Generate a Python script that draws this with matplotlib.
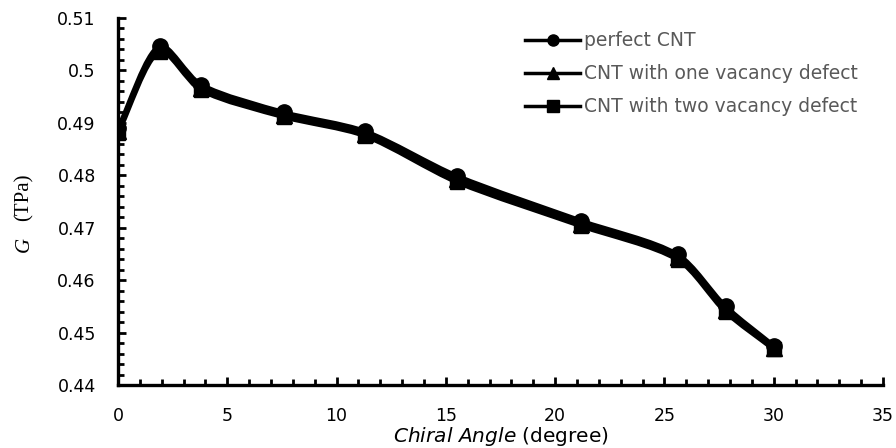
import matplotlib
matplotlib.use('Agg')
import matplotlib.pyplot as plt
import numpy as np
from matplotlib.lines import Line2D
from matplotlib.patches import PathPatch
from matplotlib.path import Path
from matplotlib.ticker import FuncFormatter, MultipleLocator

chiral_angle = [0, 1.9, 3.8, 7.6, 11.3, 15.5, 21.2, 25.6, 27.8, 30]
g_perfect = [0.4890, 0.5047, 0.4973, 0.4920, 0.4884, 0.4799, 0.4713, 0.4649, 0.4550, 0.4475]
g_one_vac = [0.4885, 0.5041, 0.4967, 0.4915, 0.4879, 0.4793, 0.4708, 0.4644, 0.4544, 0.4471]
g_two_vac = [0.4880, 0.5036, 0.4962, 0.4911, 0.4875, 0.4787, 0.4703, 0.4639, 0.4539, 0.4468]

labels = ['perfect CNT', 'CNT with one vacancy defect', 'CNT with two vacancy defect']
markers = ['o', '^', 's']
marker_sizes = [11, 11, 10]

XMAX, YMIN, YMAX = 35, 0.44, 0.51
AX_W, AX_H = 765, 367  # axes size in pixels, used to smooth in screen proportions


def smooth_path(x, y, k=0.28):
    # cubic Bezier through every point, tangents from neighbours scaled by chord length
    p = np.column_stack([np.asarray(x) / XMAX * AX_W, (np.asarray(y) - YMIN) / (YMAX - YMIN) * AX_H])
    n = len(p)
    d = np.linalg.norm(np.diff(p, axis=0), axis=1)
    tang = np.zeros_like(p)
    for i in range(n):
        a = p[i - 1] if i > 0 else p[i]
        b = p[i + 1] if i < n - 1 else p[i]
        span = (d[i - 1] if i > 0 else 0) + (d[i] if i < n - 1 else 0)
        tang[i] = (b - a) / span
    verts = [p[0]]
    codes = [Path.MOVETO]
    for i in range(n - 1):
        c1 = p[i] + tang[i] * d[i] * k
        c2 = p[i + 1] - tang[i + 1] * d[i] * k
        verts += [c1, c2, p[i + 1]]
        codes += [Path.CURVE4] * 3
    v = np.array(verts)
    v[:, 0] = v[:, 0] / AX_W * XMAX
    v[:, 1] = v[:, 1] / AX_H * (YMAX - YMIN) + YMIN
    return Path(v, codes)


plt.rcParams['font.family'] = ['DejaVu Sans']

fig = plt.figure(figsize=(8.96, 4.48), dpi=100)
ax = fig.add_axes([118 / 896, 1 - 385 / 448, AX_W / 896, AX_H / 448])

handles = []
for yv, lab, mk, ms in zip([g_perfect, g_one_vac, g_two_vac], labels, markers, marker_sizes):
    ax.add_patch(PathPatch(smooth_path(chiral_angle, yv), facecolor='none',
                           edgecolor='black', lw=3.3, capstyle='round', joinstyle='round'))
    ax.plot(chiral_angle, yv, ls='none', marker=mk, ms=ms, color='black', zorder=3)
    handles.append(Line2D([], [], color='black', lw=2.5, marker=mk, ms=8, label=lab))

ax.set_xlim(0, XMAX)
ax.set_ylim(YMIN, YMAX)
ax.xaxis.set_major_locator(MultipleLocator(5))
ax.xaxis.set_minor_locator(MultipleLocator(1))
ax.yaxis.set_major_locator(MultipleLocator(0.01))
ax.yaxis.set_minor_locator(MultipleLocator(0.002))
ax.yaxis.set_major_formatter(FuncFormatter(lambda v, _: f'{round(v, 3):g}'))

for side in ['top', 'right']:
    ax.spines[side].set_visible(False)
for side in ['left', 'bottom']:
    ax.spines[side].set_linewidth(2.4)
ax.tick_params(which='major', direction='in', length=6, width=2, labelsize=12.5)
ax.tick_params(which='minor', direction='in', length=4.5, width=2)
ax.tick_params(axis='x', which='major', pad=16)
ax.tick_params(axis='y', which='major', pad=16)

ax.set_xlabel(r'$\mathit{Chiral\ Angle}$ (degree)', fontsize=14.5, labelpad=0)

# y label: italic serif symbol followed by the unit
fig.text(24 / 896, 1 - 244 / 448, 'G', family='Liberation Serif', style='italic',
         fontsize=15, rotation=90, ha='center', va='center')
fig.text(24 / 896, 1 - 197 / 448, '(TPa)', family='Liberation Serif',
         fontsize=15, rotation=90, ha='center', va='center')

leg = ax.legend(handles=handles, loc='upper left', bbox_to_anchor=(516 / 896, 1 - 22 / 448),
                bbox_transform=fig.transFigure, frameon=False, fontsize=13.5,
                handlelength=2.9, handletextpad=0.25, labelspacing=0.75, borderpad=0)
for t in leg.get_texts():
    t.set_color('#595959')

fig.savefig('out.png', dpi=100)
